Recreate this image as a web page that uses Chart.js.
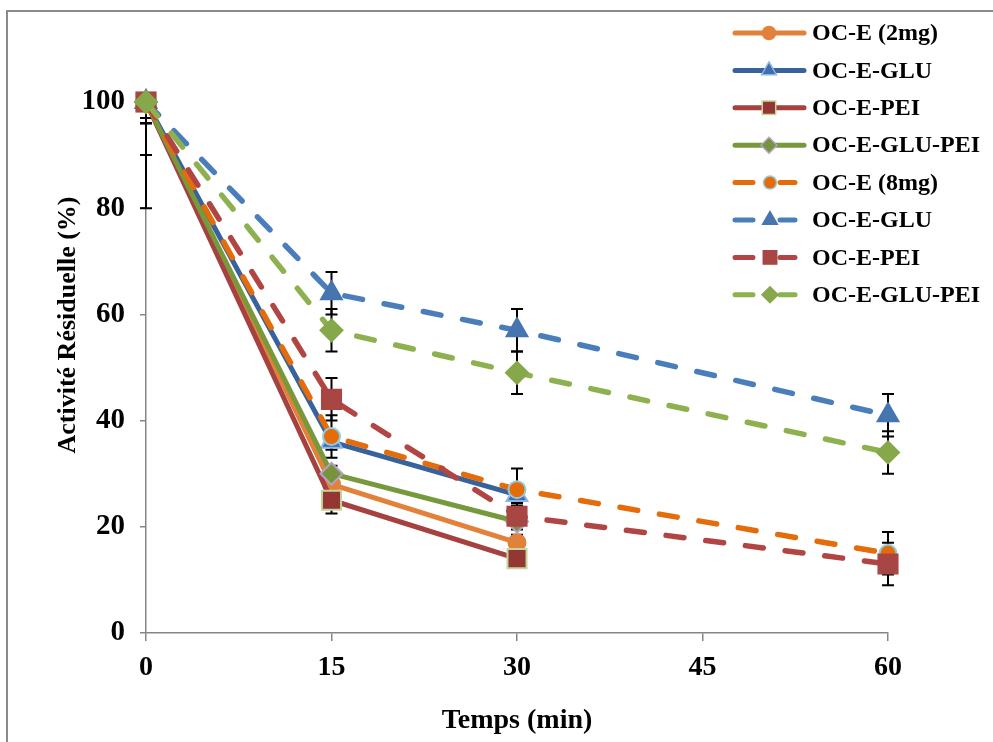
<!DOCTYPE html>
<html>
<head>
<meta charset="utf-8">
<script src="https://cdn.jsdelivr.net/npm/chart.js@4/dist/chart.umd.min.js"></script>
<style>
  html, body { margin: 0; padding: 0; background: #ffffff; }
  #chart { display: block; }
</style>
</head>
<body>
<canvas id="chart" width="993" height="742"></canvas>
<script>
// Sampling times (min)
const times = [0, 15, 30, 60];

// Series labels
const seriesLabels = ['OC-E (2mg)', 'OC-E-GLU', 'OC-E-PEI', 'OC-E-GLU-PEI',
                      'OC-E (8mg)', 'OC-E-GLU', 'OC-E-PEI', 'OC-E-GLU-PEI'];

// Residual activity (%) — 2 mg series (measured up to 30 min)
const oce2     = [100, 28, 17];
const glu2     = [100, 36, 26];
const pei2     = [100, 25, 14];
const gluPei2  = [100, 30, 21];
// Standard deviations, 2 mg
const oce2Err    = [3, 2, 1.5];
const glu2Err    = [4, 1.5, 1.5];
const pei2Err    = [10, 2.5, 1.5];
const gluPei2Err = [20, 1.5, 1.5];

// Residual activity (%) — 8 mg series (measured up to 60 min)
const oce8     = [100, 37, 27, 15];
const glu8     = [100, 64, 57, 41];
const pei8     = [100, 44, 22, 13];
const gluPei8  = [100, 57, 49, 34];
// Standard deviations, 8 mg
const oce8Err    = [3, 4, 4, 4];
const glu8Err    = [4, 4, 4, 4];
const pei8Err    = [3, 4, 2, 4];
const gluPei8Err = [4, 4, 4, 4];

// Axis ticks
const xTicks = [0, 15, 30, 45, 60];
const yTicks = [0, 20, 40, 60, 80, 100];

const SERIF = '"Liberation Serif", "Times New Roman", serif';

function toPoints(values) {
  return values.map((v, i) => ({ x: times[i], y: v }));
}

function series(idx, values, errors, style) {
  return {
    label: seriesLabels[idx],
    data: toPoints(values),
    errors: errors,
    borderColor: style.line,
    backgroundColor: style.fill,
    borderWidth: style.dashed ? 5.5 : 5,
    borderDash: style.dashed ? [18, 22] : [],
    borderCapStyle: style.dashed ? 'round' : 'butt',
    borderJoinStyle: 'round',
    pointStyle: style.shape,
    pointRadius: style.r,
    pointHoverRadius: style.r,
    pointBackgroundColor: style.fill,
    pointBorderColor: style.pBorder,
    pointBorderWidth: 2,
    legendRadius: style.lr,
    dashed: style.dashed,
    tension: 0,
    fill: false,
    clip: false,
    order: 8 - idx
  };
}

const datasets = [
  series(0, oce2, oce2Err,       { line: '#E2823A', fill: '#E2823A', pBorder: '#E2823A', shape: 'circle',   r: 8.5,  lr: 6.5, dashed: false }),
  series(1, glu2, glu2Err,       { line: '#37629C', fill: '#3F6DB0', pBorder: '#8EB4E3', shape: 'triangle', r: 12,   lr: 8.5, dashed: false }),
  series(2, pei2, pei2Err,       { line: '#A5413F', fill: '#943634', pBorder: '#C3D69B', shape: 'rect',     r: 13.5, lr: 9.5, dashed: false }),
  series(3, gluPei2, gluPei2Err, { line: '#77993C', fill: '#77933C', pBorder: '#B3A2C7', shape: 'rectRot',  r: 11,   lr: 8,   dashed: false }),
  series(4, oce8, oce8Err,       { line: '#E46C0A', fill: '#E46C0A', pBorder: '#93CDDD', shape: 'circle',   r: 8.5,  lr: 6.5, dashed: true }),
  series(5, glu8, glu8Err,       { line: '#4A7EBB', fill: '#4675B0', pBorder: '#4675B0', shape: 'triangle', r: 12,   lr: 8.5, dashed: true }),
  series(6, pei8, pei8Err,       { line: '#B04543', fill: '#A84644', pBorder: '#A84644', shape: 'rect',     r: 13.5, lr: 9.5, dashed: true }),
  series(7, gluPei8, gluPei8Err, { line: '#8DB14E', fill: '#86A84A', pBorder: '#86A84A', shape: 'rectRot',  r: 11,   lr: 8,   dashed: true })
];

// Outer frame of the figure
const framePlugin = {
  id: 'frame',
  beforeDraw(chart) {
    const ctx = chart.ctx;
    ctx.save();
    ctx.fillStyle = '#ffffff';
    ctx.fillRect(0, 0, chart.width, chart.height);
    ctx.strokeStyle = '#8a8a8a';
    ctx.lineWidth = 2;
    ctx.strokeRect(7, 11, chart.width + 20, chart.height + 20);
    ctx.restore();
  }
};

// Vertical error bars (± SD), clipped to the plotting area
const errorBarPlugin = {
  id: 'errorBars',
  beforeDatasetsDraw(chart) {
    const ctx = chart.ctx;
    const xs = chart.scales.x, ys = chart.scales.y;
    const area = chart.chartArea;
    ctx.save();
    ctx.beginPath();
    ctx.rect(area.left - 10, area.top, area.right - area.left + 20, area.bottom - area.top);
    ctx.clip();
    ctx.strokeStyle = '#000000';
    ctx.lineWidth = 2;
    chart.data.datasets.forEach(ds => {
      ds.data.forEach((p, i) => {
        const e = ds.errors[i];
        if (!e) return;
        const px = xs.getPixelForValue(p.x);
        const top = ys.getPixelForValue(p.y + e);
        const bot = ys.getPixelForValue(p.y - e);
        ctx.beginPath();
        ctx.moveTo(px, top); ctx.lineTo(px, bot);
        ctx.moveTo(px - 6, top); ctx.lineTo(px + 6, top);
        ctx.moveTo(px - 6, bot); ctx.lineTo(px + 6, bot);
        ctx.stroke();
      });
    });
    ctx.restore();
  }
};

// Legend in the upper right corner, plus the rotated y-axis title
const legendPlugin = {
  id: 'sideLegend',
  afterDraw(chart) {
    const ctx = chart.ctx;
    ctx.save();
    chart.data.datasets.forEach((ds, i) => {
      const y = 33 + i * 37.4;
      ctx.strokeStyle = ds.borderColor;
      ctx.lineWidth = 5;
      ctx.lineCap = 'round';
      ctx.setLineDash([]);
      ctx.beginPath();
      if (ds.dashed) {
        ctx.moveTo(735, y); ctx.lineTo(753, y);
        ctx.moveTo(780, y); ctx.lineTo(795, y);
      } else {
        ctx.moveTo(735, y); ctx.lineTo(804, y);
      }
      ctx.stroke();
      ctx.fillStyle = ds.pointBackgroundColor;
      ctx.strokeStyle = ds.pointBorderColor;
      ctx.lineWidth = 1.5;
      Chart.helpers.drawPoint(ctx, { pointStyle: ds.pointStyle, radius: ds.legendRadius, borderWidth: 1.5, rotation: 0 },
        ds.dashed ? 770 : 769, y);
      ctx.fillStyle = '#000000';
      ctx.font = 'bold 24px ' + SERIF;
      ctx.textAlign = 'left';
      ctx.textBaseline = 'middle';
      ctx.fillText(ds.label, 812, y + 1);
    });

    ctx.translate(68, 325);
    ctx.rotate(-Math.PI / 2);
    ctx.fillStyle = '#000000';
    ctx.font = 'bold 26px ' + SERIF;
    ctx.textAlign = 'center';
    ctx.textBaseline = 'middle';
    ctx.fillText('Activité Résiduelle (%)', 0, 0);
    ctx.restore();
  }
};

new Chart(document.getElementById('chart'), {
  type: 'line',
  data: { datasets: datasets },
  options: {
    responsive: false,
    devicePixelRatio: 1,
    animation: false,
    events: [],
    layout: { padding: { left: 0, top: 102, right: 105, bottom: 0 } },
    plugins: {
      legend: { display: false },
      tooltip: { enabled: false }
    },
    scales: {
      x: {
        type: 'linear',
        min: 0,
        max: 60,
        afterFit(scale) { scale.height = 109; },
        afterBuildTicks(scale) { scale.ticks = xTicks.map(v => ({ value: v })); },
        border: { display: true, color: '#868686', width: 1.5 },
        grid: { display: true, drawOnChartArea: false, drawTicks: true, tickLength: 8, color: '#868686', lineWidth: 1.5 },
        ticks: {
          color: '#000000',
          padding: 10,
          maxRotation: 0,
          font: { family: SERIF, size: 28, weight: 'bold' }
        },
        title: {
          display: true,
          text: 'Temps (min)',
          color: '#000000',
          font: { family: SERIF, size: 28, weight: 'bold' },
          padding: { top: 0, bottom: 4 }
        }
      },
      y: {
        type: 'linear',
        min: 0,
        max: 100,
        afterFit(scale) { scale.width = 146; },
        afterBuildTicks(scale) { scale.ticks = yTicks.map(v => ({ value: v })); },
        border: { display: true, color: '#868686', width: 1.5 },
        grid: { display: true, drawOnChartArea: false, drawTicks: true, tickLength: 6, color: '#868686', lineWidth: 1.5 },
        ticks: {
          color: '#000000',
          padding: 15,
          font: { family: SERIF, size: 29, weight: 'bold' }
        }
      }
    }
  },
  plugins: [framePlugin, errorBarPlugin, legendPlugin]
});
</script>
</body>
</html>
